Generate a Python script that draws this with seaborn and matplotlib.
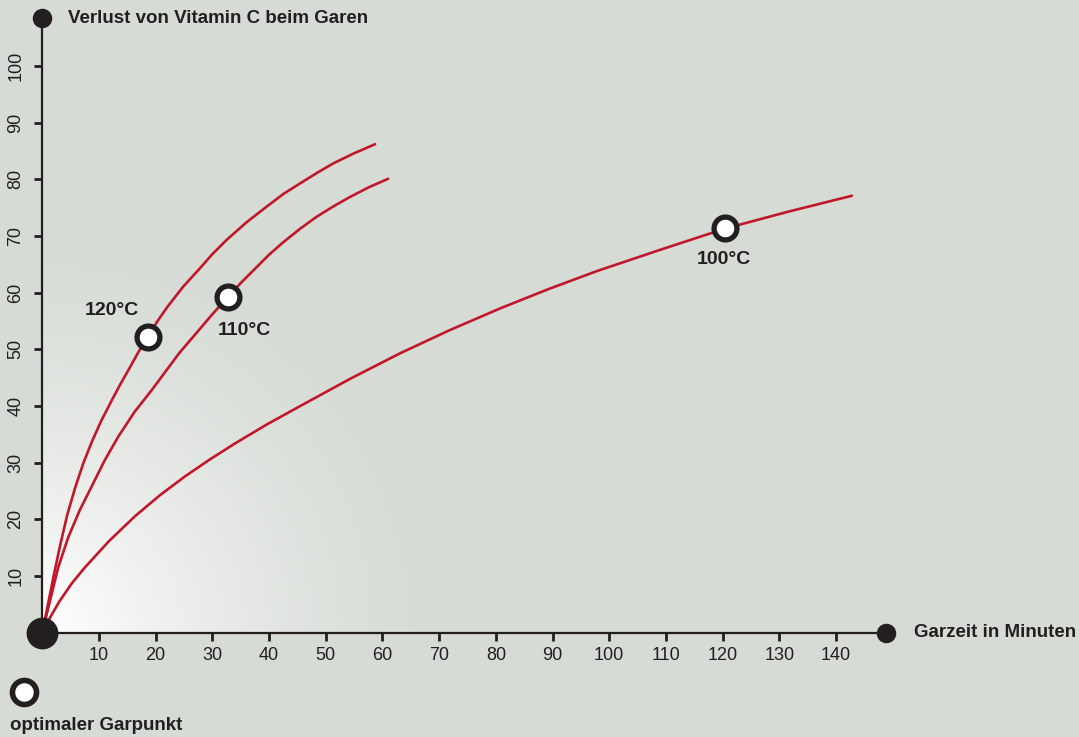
import numpy as np
import pandas as pd
import matplotlib
matplotlib.use("Agg")
import matplotlib.pyplot as plt
import seaborn as sns

# %%
# values
x_120 = [0, 1.0, 2.0, 3.1, 4.4, 5.8, 7.2, 8.7, 10.4, 12.2, 13.8, 15.5, 17.0, 18.6, 20.2,
         22.0, 24.8, 27.8, 30.0, 32.5, 36.0, 39.6, 42.5, 45.5, 48.4, 51.3, 55.0, 58.7]
y_120 = [0, 5.0, 10.0, 15.2, 20.8, 25.6, 29.8, 33.6, 37.4, 40.9, 43.9, 46.9, 49.6, 52.2, 54.8,
         57.4, 61.0, 64.3, 66.8, 69.3, 72.4, 75.2, 77.4, 79.3, 81.1, 82.8, 84.6, 86.2]

x_110 = [0, 1.2, 2.8, 4.6, 6.6, 8.7, 11.0, 13.4, 16.3, 19.3, 21.3, 24.2, 27.2, 30.0, 32.8,
         35.2, 37.5, 40.0, 42.5, 45.5, 48.4, 51.3, 54.3, 57.6, 61.0]
y_110 = [0, 5.0, 11.5, 16.9, 21.6, 25.8, 30.4, 34.6, 39.0, 42.8, 45.5, 49.4, 52.9, 56.2, 59.3,
         61.9, 64.2, 66.7, 68.9, 71.3, 73.4, 75.2, 76.9, 78.6, 80.1]

x_100 = [0, 1.5, 3.0, 5.2, 7.5, 11.8, 16.4, 20.8, 25.2, 29.6, 34.0, 39.7, 45.5, 54.3, 63.1,
         71.9, 80.7, 89.2, 97.8, 109.1, 120.4, 131.6, 142.8]
y_100 = [0, 2.9, 5.5, 8.7, 11.5, 16.2, 20.6, 24.3, 27.6, 30.6, 33.4, 36.8, 40.0, 44.8, 49.3,
         53.4, 57.2, 60.6, 63.8, 67.6, 71.3, 74.3, 77.1]

# optimal cooking points
opt_labels = ['120°C', '110°C', '100°C']
opt_x = [18.6, 32.8, 120.4]
opt_y = [52.2, 59.3, 71.4]

x_ticks = list(range(10, 150, 10))
y_ticks = list(range(10, 110, 10))

# %%
curves = pd.concat([
    pd.DataFrame({'t': x_120, 'loss': y_120, 'temp': '120°C'}),
    pd.DataFrame({'t': x_110, 'loss': y_110, 'temp': '110°C'}),
    pd.DataFrame({'t': x_100, 'loss': y_100, 'temp': '100°C'}),
], ignore_index=True)
points = pd.DataFrame({'t': opt_x, 'loss': opt_y, 'temp': opt_labels})

bg = '#d6dbd5'
ink = '#231f20'
red = '#c1172b'

sns.set_theme(style="white")
plt.rcParams['font.family'] = ['Liberation Sans', 'DejaVu Sans']

fig = plt.figure(figsize=(10.79, 7.37), dpi=100, facecolor=bg)
ax = fig.add_axes([0, 0, 1, 1])
ax.set_facecolor(bg)

# pixel -> data mapping: x0 at 42.3 px, 5.669 px / unit; y0 at 632.7 px, 5.667 px / unit
px = 5.669
ax.set_xlim(-42.3 / px, (1079 - 42.3) / px)
ax.set_ylim((632.7 - 737) / 5.667, 632.7 / 5.667)

# soft white glow in the corner of the plot area
gx = np.linspace(0, 150, 400)
gy = np.linspace(0, 110, 300)
GX, GY = np.meshgrid(gx, gy)
r = np.sqrt(GX ** 2 + GY ** 2) * px
a = np.clip(1 - r / 430, 0, 1) ** 1.5
glow = np.zeros(GX.shape + (4,))
glow[..., :3] = 1.0
glow[..., 3] = a
ax.imshow(glow, extent=(0, 150, 0, 110), origin='lower', aspect='auto', zorder=0,
          interpolation='bilinear')

sns.lineplot(data=curves, x='t', y='loss', units='temp', estimator=None, sort=False,
             color=red, linewidth=1.9, ax=ax, zorder=3)
sns.scatterplot(data=points, x='t', y='loss', s=270, color='white', edgecolor=ink,
                linewidth=3.8, ax=ax, zorder=5, legend=False)

# labels of the curves
label_pos = {'120°C': (12.2, 56.8), '110°C': (35.6, 53.4), '100°C': (120.3, 65.9)}
for lab in opt_labels:
    lx, ly = label_pos[lab]
    ax.text(lx, ly, lab, ha='center', va='center', fontsize=14, fontweight='bold', color=ink)

# axes
for side in ['top', 'right']:
    ax.spines[side].set_visible(False)
ax.spines['left'].set_position(('data', 0))
ax.spines['bottom'].set_position(('data', 0))
ax.spines['left'].set_bounds(0, 108.4)
ax.spines['bottom'].set_bounds(0, 148.9)
for side in ['left', 'bottom']:
    ax.spines[side].set_color(ink)
    ax.spines[side].set_linewidth(1.6)
    ax.spines[side].set_zorder(4)

ax.set_xticks(x_ticks)
ax.set_yticks(y_ticks)
ax.set_xticklabels([str(v) for v in x_ticks])
ax.set_yticklabels([str(v) for v in y_ticks], rotation=90, va='center')
ax.tick_params(axis='both', direction='out', length=6, width=2, color=ink,
               labelcolor=ink, labelsize=13)
ax.tick_params(axis='x', pad=4)
ax.tick_params(axis='y', pad=7)
ax.xaxis.set_ticks_position('bottom')
ax.yaxis.set_ticks_position('left')
ax.set_xlabel('')
ax.set_ylabel('')

# dots at the ends of the axes and at the origin
ax.scatter([0], [0], s=480, color=ink, zorder=6, clip_on=False)
ax.scatter([0, 148.9], [108.4, 0], s=170, color=ink, zorder=6, clip_on=False)

ax.text(4.5, 108.4, 'Verlust von Vitamin C beim Garen', ha='left', va='center',
        fontsize=13.5, fontweight='bold', color=ink)
ax.text(153.8, 0, 'Garzeit in Minuten', ha='left', va='center',
        fontsize=13.5, fontweight='bold', color=ink)

# legend for the optimal point
ax.scatter([-3.23], [-10.5], s=300, color='white', edgecolor=ink, linewidth=4.0,
           zorder=6, clip_on=False)
ax.text(-5.7, -16.3, 'optimaler Garpunkt', ha='left', va='center',
        fontsize=13.5, fontweight='bold', color=ink)

fig.savefig('out.png', dpi=100, facecolor=bg)
